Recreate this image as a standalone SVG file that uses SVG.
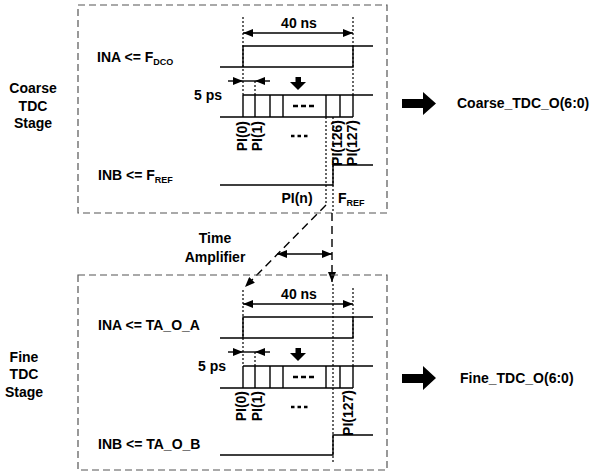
<svg xmlns="http://www.w3.org/2000/svg" width="597" height="474" viewBox="0 0 597 474">
<style>
text{font-family:"Liberation Sans",Arial,sans-serif;font-weight:bold;font-size:14px;fill:#000}
.box{fill:none;stroke:#555;stroke-width:1.2;stroke-dasharray:7 4}
.w{fill:none;stroke:#000;stroke-width:1.4}
.dot{fill:none;stroke:#000;stroke-width:1.2;stroke-dasharray:2 2}
.dash{fill:none;stroke:#000;stroke-width:1.4;stroke-dasharray:8 5}
.arr{fill:none;stroke:#000;stroke-width:1.4;marker-end:url(#ah)}
.darr{fill:none;stroke:#000;stroke-width:1.4;marker-start:url(#ah);marker-end:url(#ah)}
.sub{font-size:9px}
.big{fill:#000}
.ell{stroke:#000;stroke-width:2.6;fill:none}
</style>
<defs>
<marker id="ah" viewBox="0 0 10 8" refX="10" refY="4" markerWidth="10" markerHeight="8" markerUnits="userSpaceOnUse" orient="auto-start-reverse">
<path d="M0,0 L10,4 L0,8 Z" fill="#000"/>
</marker>
</defs>

<g id="coarse-stage">
<rect class="box" x="78" y="5" width="309" height="208"/>
<text x="33" y="93" text-anchor="middle">Coarse</text>
<text x="33" y="111" text-anchor="middle">TDC</text>
<text x="33" y="128" text-anchor="middle">Stage</text>
<text x="97" y="62">INA &lt;= F<tspan class="sub" dy="3">DCO</tspan></text>
<text x="98" y="180">INB &lt;= F<tspan class="sub" dy="3">REF</tspan></text>
<text x="194" y="100">5 ps</text>
<text x="299" y="28" text-anchor="middle">40 ns</text>
<line class="dot" x1="243" y1="17" x2="243" y2="95"/>
<line class="dot" x1="353" y1="17" x2="353" y2="95"/>
<line class="dot" x1="255" y1="81" x2="255" y2="95"/>
<line class="darr" x1="243" y1="33" x2="353" y2="33"/>
<path class="w" d="M220,67 H353 V46 M243,67 V46 H373"/>
<polygon class="big" points="295.5,77 301,77 301,82 306,82 298,90 290,82 295.5,82"/>
<line class="w" x1="243" y1="81" x2="255" y2="81"/>
<line class="arr" x1="228" y1="81" x2="243" y2="81"/>
<line class="arr" x1="270" y1="81" x2="255" y2="81"/>
<path class="w" d="M243,95 H373 M220,117 H353 M243,95 V117 M255,95 V117 M270,95 V117 M283,95 V117 M326,95 V117 M340,95 V117 M353,95 V117"/>
<path class="ell" d="M293,106 h5 M301,106 h5 M309,106 h5"/>
<text transform="translate(247,121) rotate(-90)" text-anchor="end">PI(0)</text>
<text transform="translate(262,121) rotate(-90)" text-anchor="end">PI(1)</text>
<path class="ell" d="M291,136 h3.5 M297.5,136 h3.5 M304,136 h3.5" stroke-width="3"/>
<text transform="translate(342,120) rotate(-90)" text-anchor="end">PI(126)</text>
<text transform="translate(357,120) rotate(-90)" text-anchor="end">PI(127)</text>
<path class="w" d="M220,185 H333 V165 H373"/>
<line class="dot" x1="326" y1="117" x2="326" y2="205"/>
<line class="dot" x1="333" y1="117" x2="333" y2="213"/>
<text x="297" y="203" text-anchor="middle">PI(n)</text>
<text x="338" y="203">F<tspan class="sub" dy="3">REF</tspan></text>
</g>

<g id="coarse-output">
<polygon class="big" points="402,99 423,99 423,92 436,103.5 423,115 423,108 402,108"/>
<text x="457" y="108">Coarse_TDC_O(6:0)</text>
</g>

<g id="time-amplifier">
<text x="215" y="243" text-anchor="middle">Time</text>
<text x="215" y="262" text-anchor="middle">Amplifier</text>
</g>

<g id="connectors">
<line class="dash" x1="326" y1="205" x2="245" y2="287" marker-end="url(#ah)"/>
<line class="dash" x1="332" y1="213" x2="332" y2="282" marker-end="url(#ah)"/>
<line class="darr" x1="277" y1="254" x2="332" y2="254"/>
</g>

<g id="fine-stage">
<rect class="box" x="78" y="275" width="309" height="195"/>
<text x="24" y="362" text-anchor="middle">Fine</text>
<text x="24" y="379" text-anchor="middle">TDC</text>
<text x="24" y="397" text-anchor="middle">Stage</text>
<text x="98" y="330">INA &lt;= TA_O_A</text>
<text x="98" y="449">INB &lt;= TA_O_B</text>
<text x="198" y="371">5 ps</text>
<text x="299" y="299" text-anchor="middle">40 ns</text>
<line class="dot" x1="243" y1="290" x2="243" y2="366"/>
<line class="dot" x1="353" y1="288" x2="353" y2="366"/>
<line class="dot" x1="255" y1="352" x2="255" y2="366"/>
<line class="dot" x1="333" y1="284" x2="333" y2="462"/>
<line class="darr" x1="243" y1="304" x2="353" y2="304"/>
<path class="w" d="M220,338 H353 V317 M243,338 V317 H373"/>
<polygon class="big" points="295.5,348 301,348 301,353 306,353 298,361 290,353 295.5,353"/>
<line class="w" x1="243" y1="352" x2="255" y2="352"/>
<line class="arr" x1="228" y1="352" x2="243" y2="352"/>
<line class="arr" x1="270" y1="352" x2="255" y2="352"/>
<path class="w" d="M243,366 H373 M220,388 H353 M243,366 V388 M255,366 V388 M270,366 V388 M283,366 V388 M326,366 V388 M340,366 V388 M353,366 V388"/>
<path class="ell" d="M293,377 h5 M301,377 h5 M309,377 h5"/>
<text transform="translate(246,391) rotate(-90)" text-anchor="end">PI(0)</text>
<text transform="translate(262,391) rotate(-90)" text-anchor="end">PI(1)</text>
<path class="ell" d="M291,407 h3.5 M297.5,407 h3.5 M304,407 h3.5" stroke-width="3"/>
<text transform="translate(353,390) rotate(-90)" text-anchor="end">PI(127)</text>
<path class="w" d="M220,455 H333 V435 H373"/>
</g>

<g id="fine-output">
<polygon class="big" points="402,374 423,374 423,366 436,378 423,390 423,383 402,383"/>
<text x="460" y="383">Fine_TDC_O(6:0)</text>
</g>
</svg>
